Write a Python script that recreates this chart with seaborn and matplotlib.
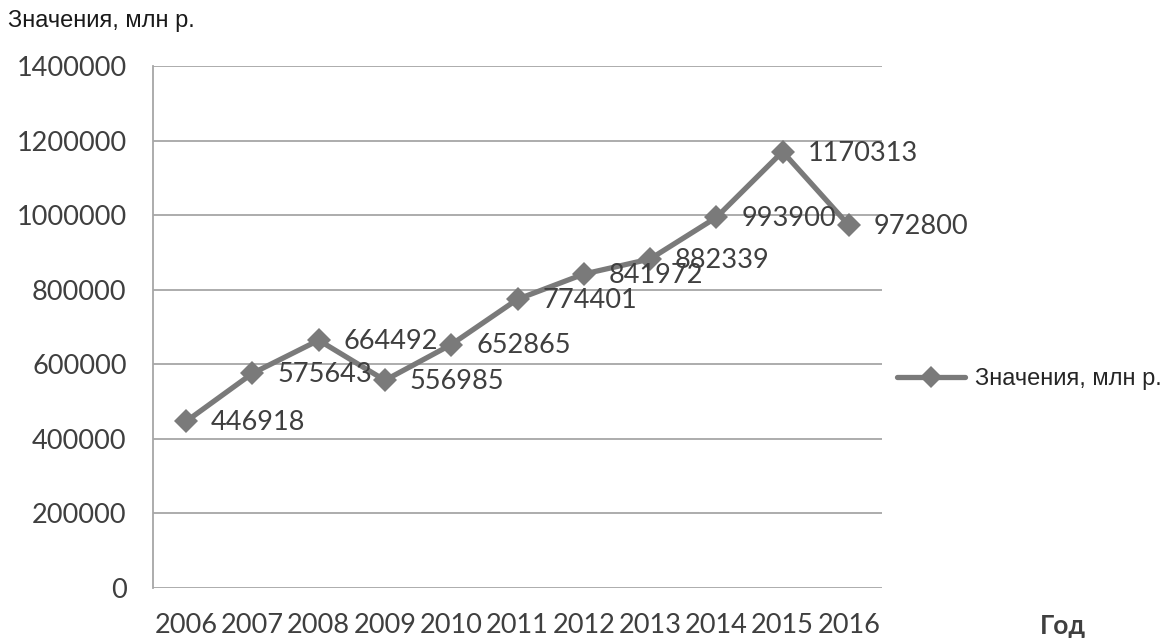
import matplotlib
matplotlib.use("Agg")
import matplotlib.pyplot as plt
import seaborn as sns
import pandas as pd
from matplotlib.lines import Line2D

years = [2006, 2007, 2008, 2009, 2010, 2011, 2012, 2013, 2014, 2015, 2016]
values = [446918, 575643, 664492, 556985, 652865, 774401, 841972, 882339, 993900, 1170313, 972800]
y_ticks = [0, 200000, 400000, 600000, 800000, 1000000, 1200000, 1400000]
series_name = "Значения, млн р."
x_title = "Год"

df = pd.DataFrame({"year": years, "value": values})

sns.set_theme(style="white")
plt.rcParams["font.family"] = ["Lato", "DejaVu Sans"]

line_color = "#7a7a7a"
text_color = "#3f3f3f"
grid_color = "#a6a6a6"

fig = plt.figure(figsize=(11.66, 6.39), dpi=100)
ax = fig.add_axes([153 / 1166, 1 - 588 / 639, (882 - 153) / 1166, (588 - 66) / 639])

sns.lineplot(data=df, x="year", y="value", ax=ax, color=line_color, linewidth=3.8,
             marker="D", markersize=12, markeredgewidth=0, legend=False)

ax.set_xlim(2005.5, 2016.5)
ax.set_ylim(0, 1400000)
ax.set_xticks(years)
ax.set_xticklabels([str(y) for y in years])
ax.set_yticks(y_ticks)
ax.set_yticklabels([str(v) for v in y_ticks])
ax.tick_params(axis="x", length=0, pad=18, labelsize=19.5, labelcolor=text_color)
ax.tick_params(axis="y", length=0, pad=19, labelsize=19.5, labelcolor=text_color)
ax.set_xlabel("")
ax.set_ylabel("")

for v in y_ticks:
    ax.axhline(v, color=grid_color, linewidth=1.3, zorder=0)

for side in ["top", "right", "bottom"]:
    ax.spines[side].set_visible(False)
ax.spines["left"].set_color(grid_color)
ax.spines["left"].set_linewidth(1.3)

for x, v in zip(years, values):
    ax.annotate(str(v), (x, v), xytext=(18, -1), textcoords="offset points",
                ha="left", va="center", fontsize=19.5, color=text_color)

fig.text(8 / 1166, 1 - 21 / 639, series_name, family=["Liberation Sans", "DejaVu Sans"],
         fontsize=17, color="#1a1a1a", ha="left", va="center")

fig.text(1040 / 1166, 1 - 626 / 639, x_title, fontsize=19, fontweight="bold",
         color=text_color, ha="left", va="center")

handle = Line2D([], [], color=line_color, linewidth=3.8, marker="D", markersize=11,
                markeredgewidth=0)
fig.legend([handle], [series_name], loc="center left",
           bbox_to_anchor=(897 / 1166, 1 - 379 / 639), frameon=False,
           borderaxespad=0, borderpad=0,
           handlelength=2.9, handletextpad=0.42,
           prop={"family": ["Liberation Sans", "DejaVu Sans"], "size": 17})

fig.savefig("out.png", dpi=100)
